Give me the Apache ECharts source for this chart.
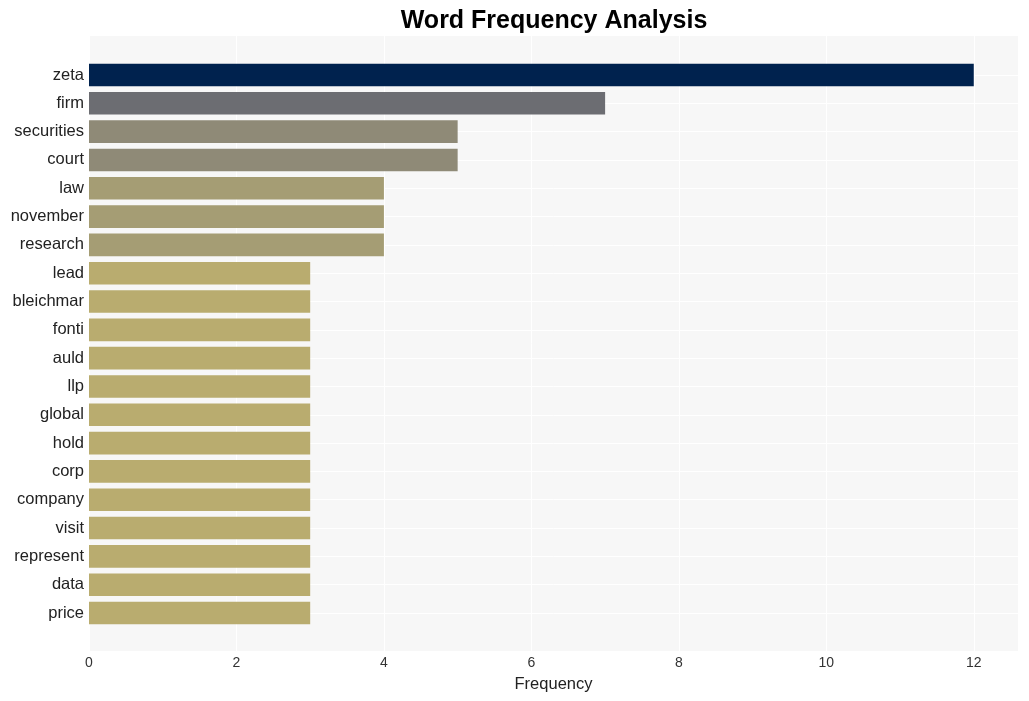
<!DOCTYPE html>
<html>
<head>
<meta charset="utf-8">
<script src="https://cdn.jsdelivr.net/npm/echarts@6/dist/echarts.min.js"></script>
<style>
html,body{margin:0;padding:0;background:#fff;}
#main{width:1029px;height:701px;}
</style>
</head>
<body>
<div id="main"></div>
<script>
const categories = ["zeta","firm","securities","court","law","november","research","lead","bleichmar","fonti","auld","llp","global","hold","corp","company","visit","represent","data","price"];
const values = [12,7,5,5,4,4,4,3,3,3,3,3,3,3,3,3,3,3,3,3];
const barColors = ["#00224e","#6c6d72","#8f8a77","#8f8a77","#a59d74","#a59d74","#a59d74","#b9ac6f","#b9ac6f","#b9ac6f","#b9ac6f","#b9ac6f","#b9ac6f","#b9ac6f","#b9ac6f","#b9ac6f","#b9ac6f","#b9ac6f","#b9ac6f","#b9ac6f"];
const xTicks = [0,2,4,6,8,10,12];
const xMax = 12.6;

const font = "'Liberation Sans', Arial, sans-serif";
const chart = echarts.init(document.getElementById('main'));
chart.setOption({
  animation: false,
  title: {
    text: 'Word Frequency Analysis',
    left: 549, top: 4, textAlign: 'center',
    textStyle: {fontFamily: font, fontWeight: 'bold', fontSize: 25, color: '#000'}
  },
  grid: [
    {left: 89, right: 11, top: 36, bottom: 50, show: true, backgroundColor: '#f7f7f7', borderWidth: 0},
    {left: 89, right: 11, top: 75, bottom: 88, show: false}
  ],
  xAxis: [
    {type: 'value', gridIndex: 0, min: 0, max: xMax, interval: 2,
     axisLine: {show: false}, axisTick: {show: false},
     axisLabel: {showMaxLabel: false, color: '#333', fontSize: 14, fontFamily: font, margin: 5,
       formatter: v => xTicks.includes(v) ? String(v) : ''},
     splitLine: {show: true, lineStyle: {color: '#ffffff', width: 1}},
     name: 'Frequency', nameLocation: 'middle', nameGap: 25,
     nameTextStyle: {color: '#222', fontSize: 16.5, fontFamily: font}},
    {type: 'value', gridIndex: 1, min: 0, max: xMax, interval: 2, show: false,
     splitLine: {show: false}}
  ],
  yAxis: [
    {type: 'value', gridIndex: 0, show: false, splitLine: {show: false}},
    {type: 'category', gridIndex: 1, data: categories, inverse: true, boundaryGap: false,
     axisLine: {show: false}, axisTick: {show: false},
     axisLabel: {color: '#222', fontSize: 16.5, fontFamily: font, margin: 5, padding: [3, 0, 0, 0]},
     splitLine: {show: true, lineStyle: {color: '#ffffff', width: 1}}}
  ],
  series: [{
    type: 'bar', xAxisIndex: 1, yAxisIndex: 1,
    barWidth: 22.6,
    data: values.map((v, i) => ({value: v, itemStyle: {color: barColors[i]}})),
    z: 3
  }]
});
</script>
</body>
</html>
